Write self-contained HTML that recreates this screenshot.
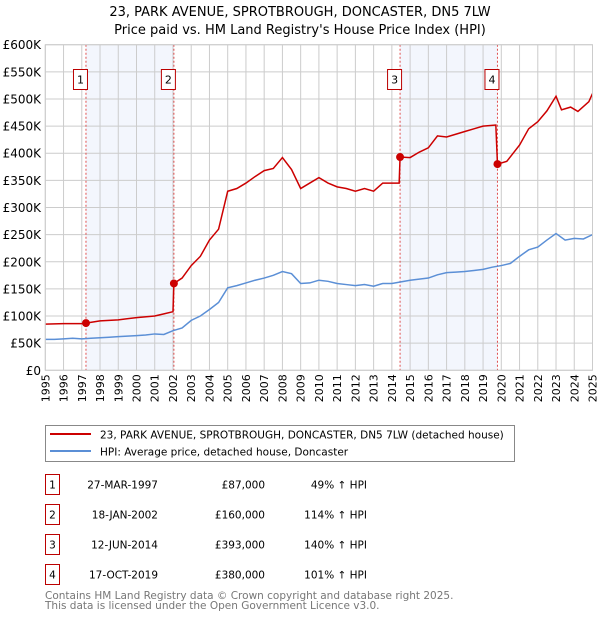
<!DOCTYPE html>
<html><head><meta charset="utf-8"><style>
body{margin:0;background:#fff;font-family:"DejaVu Sans","Liberation Sans",sans-serif;}
svg text{font-family:"DejaVu Sans","Liberation Sans",sans-serif;}
</style></head><body>
<svg id="c" width="600" height="620" xmlns="http://www.w3.org/2000/svg">
<text x="300" y="16" text-anchor="middle" font-size="13">23, PARK AVENUE, SPROTBROUGH, DONCASTER, DN5 7LW</text>
<text x="300" y="34" text-anchor="middle" font-size="13">Price paid vs. HM Land Registry's House Price Index (HPI)</text>
<g id="plot"></g>
<rect x="45.5" y="425.5" width="469" height="36" fill="#fff" stroke="#888"/>
<line x1="50" y1="434" x2="91" y2="434" stroke="#cc0000" stroke-width="2"/>
<text x="100" y="438.5" font-size="10.5">23, PARK AVENUE, SPROTBROUGH, DONCASTER, DN5 7LW (detached house)</text>
<line x1="50" y1="451" x2="91" y2="451" stroke="#5b8fd6" stroke-width="2"/>
<text x="100" y="455.5" font-size="10.5">HPI: Average price, detached house, Doncaster</text>
<g id="table" font-size="10.5"></g>
<text x="45" y="599" font-size="10.5" fill="#777">Contains HM Land Registry data © Crown copyright and database right 2025.</text>
<text x="45" y="609" font-size="10.5" fill="#777">This data is licensed under the Open Government Licence v3.0.</text>
</svg>
<script>
const hpiYears=[1995,1995.5,1996,1996.5,1997,1997.5,1998,1998.5,1999,1999.5,2000,2000.5,2001,2001.5,2002,2002.5,2003,2003.5,2004,2004.5,2005,2005.5,2006,2006.5,2007,2007.5,2008,2008.5,2009,2009.5,2010,2010.5,2011,2011.5,2012,2012.5,2013,2013.5,2014,2014.5,2015,2015.5,2016,2016.5,2017,2017.5,2018,2018.5,2019,2019.5,2020,2020.5,2021,2021.5,2022,2022.5,2023,2023.5,2024,2024.5,2025];
const hpiValues=[57,57,58,59,58,59,60,61,62,63,64,65,67,66,73,78,92,100,112,125,152,156,161,166,170,175,182,178,160,161,166,164,160,158,156,158,155,160,160,163,166,168,170,176,180,181,182,184,186,190,193,197,210,222,227,240,252,240,243,242,250];
const propYears=[1995,1996,1997,1997.23,1998,1999,2000,2001,2001.5,2002.0,2002.05,2002.5,2003,2003.5,2004,2004.5,2005,2005.5,2006,2006.5,2007,2007.5,2008,2008.5,2009,2009.5,2010,2010.5,2011,2011.5,2012,2012.5,2013,2013.5,2014.4,2014.45,2015,2015.5,2016,2016.5,2017,2017.5,2018,2018.5,2019,2019.7,2019.79,2020.3,2021,2021.5,2022,2022.5,2023,2023.3,2023.8,2024.2,2024.8,2025];
const propValues=[85,86,86,87,91,93,97,100,104,108,160,170,193,210,240,260,330,335,345,357,368,372,392,370,335,345,355,345,338,335,330,335,330,345,345,393,392,402,410,432,430,435,440,445,450,452,380,385,415,445,458,478,505,480,485,477,495,510];
const saleYears=[1997.23,2002.05,2014.45,2019.79];
const saleValues=[87,160,393,380];
const saleLabels=["1","2","3","4"];
const saleDates=["27-MAR-1997","18-JAN-2002","12-JUN-2014","17-OCT-2019"];
const salePrices=["£87,000","£160,000","£393,000","£380,000"];
const saleHpi=["49% ↑ HPI","114% ↑ HPI","140% ↑ HPI","101% ↑ HPI"];
const yTicks=[0,50,100,150,200,250,300,350,400,450,500,550,600];
const yTickLabels=["£0","£50K","£100K","£150K","£200K","£250K","£300K","£350K","£400K","£450K","£500K","£550K","£600K"];
const xTicks=[1995,1996,1997,1998,1999,2000,2001,2002,2003,2004,2005,2006,2007,2008,2009,2010,2011,2012,2013,2014,2015,2016,2017,2018,2019,2020,2021,2022,2023,2024,2025];

const NS="http://www.w3.org/2000/svg";
const L=45.3,R=592.5,T=44.7,B=370.3;
const xs=y=>L+(y-1995)*(R-L)/30;
const ys=v=>B-v*(B-T)/600;
const g=document.getElementById('plot');
function mk(tag,at,parent){const e=document.createElementNS(NS,tag);for(const k in at)e.setAttribute(k,at[k]);(parent||g).appendChild(e);return e;}
for(let i=0;i<4;i+=2){
 const r=mk('rect',{x:xs(saleYears[i]),y:T,width:xs(saleYears[i+1])-xs(saleYears[i]),height:B-T,fill:'#f3f6fd'});
 
 
}
xTicks.forEach(y=>{
 const l=mk('line',{x1:xs(y),x2:xs(y),y1:T,y2:B,stroke:'#ccc','stroke-width':1});
 
 
 const t=mk('text',{x:0,y:0,'font-size':11,'text-anchor':'end',transform:`translate(${xs(y)+4},${B+4}) rotate(-90)`});
 t.textContent=y;
 
 
});
yTicks.forEach((v,i)=>{
 const l=mk('line',{x1:L,x2:R,y1:ys(v),y2:ys(v),stroke:'#ccc','stroke-width':1});
 
 
 const t=mk('text',{x:41,y:ys(v)+4.5,'font-size':12,'text-anchor':'end'});
 t.textContent=yTickLabels[i];
 
 
});
saleYears.forEach((y,i)=>{
 const l=mk('line',{x1:xs(y),x2:xs(y),y1:T,y2:B,stroke:'#e05050','stroke-width':1,'stroke-dasharray':'2,2'});
 
 
});
const hp=mk('polyline',{points:hpiYears.map((y,i)=>xs(y)+','+ys(hpiValues[i])).join(' '),fill:'none',stroke:'#5b8fd6','stroke-width':1.5});


const pp=mk('polyline',{points:propYears.map((y,i)=>xs(y)+','+ys(propValues[i])).join(' '),fill:'none',stroke:'#cc0000','stroke-width':1.5});


saleYears.forEach((y,i)=>{
 const c=mk('circle',{cx:xs(y),cy:ys(saleValues[i]),r:4,fill:'#cc0000'});
 
 
 const b=mk('rect',{x:xs(y)-12.5,y:69.5,width:14,height:20,fill:'#fff',stroke:'#b00'});
 
 
 const t=mk('text',{x:xs(y)-5.5,y:83.5,'font-size':11,'text-anchor':'middle'});
 t.textContent=saleLabels[i];
 
 
});
const fr=mk('rect',{x:L,y:T,width:R-L,height:B-T,fill:'none',stroke:'#ccc'});


const tb=document.getElementById('table');
saleLabels.forEach((s,i)=>{
 const yy=483+30*i;
 const row=mk('g',{},tb);
 
 
 mk('rect',{x:45.5,y:yy-8.5,width:14,height:20,fill:'#fff',stroke:'#b00'},row);
 const cells=[[52.5,s,'middle'],[158,saleDates[i],'end'],[265,salePrices[i],'end'],[367,saleHpi[i],'end']];
 cells.forEach(([x,txt,a],j)=>{const t=mk('text',{x:x,y:yy+5.5,'text-anchor':a},row);t.textContent=txt;});
});
</script>
</body></html>
